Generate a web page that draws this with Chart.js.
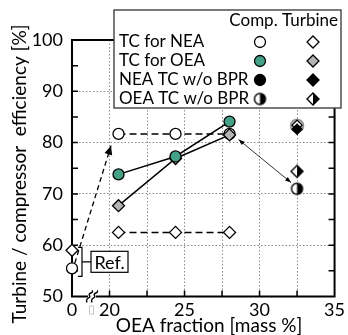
<!DOCTYPE html>
<html>
<head>
<meta charset="utf-8">
<script src="https://cdn.jsdelivr.net/npm/chart.js@4/dist/chart.umd.min.js"></script>
<style>
  html, body { margin: 0; padding: 0; background: #fff; }
  #wrap { width: 348px; height: 335px; }
</style>
</head>
<body>
<div id="wrap"><canvas id="chart"></canvas></div>
<script>
// --- axis (broken between 0 and 20) ---
const X_MIN = 17.5;          // left end of the axis, labelled "0"
const X_MAX = 35;
const xTickVals = [17.5, 20, 22.5, 25, 27.5, 30, 32.5, 35];
const xTickLabels = { 17.5: '0', 20: '20', 25: '25', 30: '30', 35: '35' };
const xGridVals = [20, 22.5, 25, 27.5, 30, 32.5];
const yTickVals = [50, 60, 70, 80, 90, 100];

// --- data ---
const xOEA = [20.6, 24.4, 28.0];
const compNEA = [81.7, 81.7, 81.7];   // TC for NEA, compressor
const turbNEA = [62.5, 62.5, 62.5];   // TC for NEA, turbine
const compOEA = [73.8, 77.3, 84.1];   // TC for OEA, compressor
const turbOEA = [67.7, 76.9, 81.5];   // TC for OEA, turbine

const xRef = 0;
const refComp = 55.5;
const refTurb = 59.0;

const xNoBpr = 32.5;
const greyNoBpr = 83.3;
const compNoBprNEA = 83.4;
const turbNoBprNEA = 82.6;
const compNoBprOEA = 71.0;
const turbNoBprOEA = 74.4;

// arrows [x0, y0, x1, y1]
const refArrow = [1.5, 56.5, 20.1, 79.4];
const gapArrow = [28.6, 80.6, 32.1, 72.2];

const TEAL = '#45a088';
const GREY = '#b4b4b4';
const FONT = 'Lato, "Open Sans", sans-serif';

// values below 20 are squeezed into the broken part of the axis
const mapX = v => v < 20 ? X_MIN + v * (20 - X_MIN) / 20 : v;
const pts = (xs, ys) => xs.map((x, i) => ({ x: mapX(x), y: ys[i] }));

// half white / half black markers
function halfMarker(shape, r) {
    const s = Math.ceil(r * 2 + 4);
    const c = document.createElement('canvas');
    c.width = s; c.height = s;
    const g = c.getContext('2d');
    const m = s / 2;
    const path = () => {
        g.beginPath();
        if (shape === 'circle') g.arc(m, m, r, 0, Math.PI * 2);
        else { g.moveTo(m, m - r); g.lineTo(m + r, m); g.lineTo(m, m + r); g.lineTo(m - r, m); g.closePath(); }
    };
    path(); g.fillStyle = '#fff'; g.fill();
    g.save(); g.beginPath(); g.rect(m, 0, m, s); g.clip();
    path(); g.fillStyle = '#000'; g.fill(); g.restore();
    path(); g.lineWidth = 1.4; g.strokeStyle = '#000'; g.stroke();
    return c;
}
const halfCircle = halfMarker('circle', 5.5);
const halfDiamond = halfMarker('diamond', 6);

function drawMarker(ctx, kind, x, y, r, fill) {
    if (kind === 'halfCircle' || kind === 'halfDiamond') {
        const img = kind === 'halfCircle' ? halfCircle : halfDiamond;
        ctx.drawImage(img, x - img.width / 2, y - img.height / 2);
        return;
    }
    ctx.beginPath();
    if (kind === 'circle') ctx.arc(x, y, r, 0, Math.PI * 2);
    else { ctx.moveTo(x, y - r); ctx.lineTo(x + r, y); ctx.lineTo(x, y + r); ctx.lineTo(x - r, y); ctx.closePath(); }
    ctx.fillStyle = fill; ctx.fill();
    ctx.lineWidth = 1.3; ctx.strokeStyle = '#000'; ctx.stroke();
}

function arrow(ctx, x0, y0, x1, y1, len, half, dash, width, both) {
    ctx.save();
    ctx.strokeStyle = '#000'; ctx.fillStyle = '#000';
    ctx.lineWidth = width;
    ctx.setLineDash(dash);
    ctx.beginPath(); ctx.moveTo(x0, y0); ctx.lineTo(x1, y1); ctx.stroke();
    ctx.setLineDash([]);
    const head = (ax, ay, bx, by) => {
        const a = Math.atan2(by - ay, bx - ax);
        ctx.beginPath();
        ctx.moveTo(bx, by);
        ctx.lineTo(bx - len * Math.cos(a) + half * Math.sin(a), by - len * Math.sin(a) - half * Math.cos(a));
        ctx.lineTo(bx - len * Math.cos(a) - half * Math.sin(a), by - len * Math.sin(a) + half * Math.cos(a));
        ctx.closePath(); ctx.fill();
    };
    head(x0, y0, x1, y1);
    if (both) head(x1, y1, x0, y0);
    ctx.restore();
}

const decorations = {
    id: 'decorations',
    beforeDatasetsDraw(chart) {
        const { ctx, chartArea: a, scales: { x, y } } = chart;
        ctx.save();
        // frame
        ctx.strokeStyle = '#000'; ctx.lineWidth = 2;
        ctx.strokeRect(a.left, a.top, a.right - a.left, a.bottom - a.top);

        // inward ticks
        ctx.lineWidth = 1.5;
        ctx.beginPath();
        for (let v = 55; v < 100; v += 5) {
            const py = y.getPixelForValue(v);
            ctx.moveTo(a.left, py); ctx.lineTo(a.left + 6, py);
            ctx.moveTo(a.right, py); ctx.lineTo(a.right - 6, py);
        }
        xGridVals.forEach(v => {
            const px = x.getPixelForValue(v);
            ctx.moveTo(px, a.bottom); ctx.lineTo(px, a.bottom - 6);
        });
        ctx.stroke();

        // axis break
        const bx = a.left + 20, by = a.bottom;
        ctx.fillStyle = '#fff';
        ctx.fillRect(bx - 4, by - 3, 8, 6);
        ctx.lineWidth = 1.4;
        [-2.5, 2.5].forEach(dx => {
            const cx = bx + dx;
            ctx.beginPath();
            ctx.moveTo(cx - 2.5, by + 6);
            ctx.bezierCurveTo(cx - 5, by + 1, cx + 2, by + 2, cx, by - 1);
            ctx.bezierCurveTo(cx - 2, by - 4, cx + 5, by - 3, cx + 2.5, by - 6);
            ctx.stroke();
        });
        ctx.strokeStyle = '#c8c8c8'; ctx.lineWidth = 1;
        ctx.strokeRect(bx - 2.5, by + 9.5, 4, 8);
        ctx.restore();
    },
    afterDatasetsDraw(chart) {
        const { ctx, chartArea: a, scales: { x, y } } = chart;
        ctx.save();

        // reference bracket + label
        const ry0 = y.getPixelForValue(refTurb) - 3;
        const ry1 = y.getPixelForValue(refComp) + 8;
        const rx = a.left + 10;
        ctx.strokeStyle = '#000'; ctx.lineWidth = 1.2;
        ctx.beginPath();
        ctx.moveTo(rx - 4, ry0); ctx.lineTo(rx, ry0); ctx.lineTo(rx, ry1); ctx.lineTo(rx - 4, ry1);
        const rm = (ry0 + ry1) / 2;
        ctx.moveTo(rx, rm); ctx.lineTo(rx + 9, rm);
        ctx.stroke();
        ctx.fillStyle = '#fff';
        ctx.fillRect(rx + 9, rm - 10.5, 37, 21);
        ctx.strokeRect(rx + 9, rm - 10.5, 37, 21);
        ctx.fillStyle = '#000';
        ctx.font = '18px ' + FONT;
        ctx.textAlign = 'center'; ctx.textBaseline = 'middle';
        ctx.fillText('Ref.', rx + 27.5, rm + 1);

        // arrows
        arrow(ctx, x.getPixelForValue(mapX(refArrow[0])), y.getPixelForValue(refArrow[1]),
            x.getPixelForValue(mapX(refArrow[2])), y.getPixelForValue(refArrow[3]), 9, 4, [5, 3.5], 1.3, false);
        arrow(ctx, x.getPixelForValue(gapArrow[0]), y.getPixelForValue(gapArrow[1]),
            x.getPixelForValue(gapArrow[2]), y.getPixelForValue(gapArrow[3]), 6, 2.2, [], 0.8, true);

        // axis titles
        ctx.fillStyle = '#000';
        ctx.font = '19px ' + FONT;
        ctx.textAlign = 'center'; ctx.textBaseline = 'middle';
        ctx.fillText('OEA fraction [mass %]', 209, 326);
        ctx.save();
        ctx.translate(20, 174);
        ctx.rotate(-Math.PI / 2);
        ctx.fillText('Turbine / compressor  efficiency [%]', 0, 0);
        ctx.restore();

        // legend box
        const L = { l: 114, t: 10, r: 341, b: 108 };
        ctx.fillStyle = '#fff';
        ctx.fillRect(L.l, L.t, L.r - L.l, L.b - L.t);
        ctx.strokeStyle = '#333'; ctx.lineWidth = 1.3;
        ctx.strokeRect(L.l, L.t, L.r - L.l, L.b - L.t);
        ctx.fillStyle = '#000';
        ctx.font = '17px ' + FONT;
        ctx.textAlign = 'right';
        ctx.fillText('Comp. Turbine', 338, 21);
        const rows = [
            ['TC for NEA', 'circle', 'diamond', '#fff', '#fff'],
            ['TC for OEA', 'circle', 'diamond', TEAL, GREY],
            ['NEA TC w/o BPR', 'circle', 'diamond', '#000', '#000'],
            ['OEA TC w/o BPR', 'halfCircle', 'halfDiamond', null, null]
        ];
        rows.forEach((row, i) => {
            const ry = 42 + i * 19;
            ctx.fillStyle = '#000';
            ctx.font = '17px ' + FONT;
            ctx.textAlign = 'left';
            ctx.fillText(row[0], 119, ry);
            drawMarker(ctx, row[1], 260, ry, 5.5, row[3]);
            drawMarker(ctx, row[2], 313, ry, 6, row[4]);
        });
        ctx.restore();
    }
};

const pointSet = (label, data, style, fill, radius, order) => ({
    label, data, showLine: false, order, clip: false,
    pointStyle: style, pointRadius: radius, pointBackgroundColor: fill,
    pointBorderColor: '#000', pointBorderWidth: 1.3
});

new Chart(document.getElementById('chart'), {
    type: 'scatter',
    data: {
        datasets: [
            {
                label: 'TC for OEA comp', data: pts(xOEA, compOEA), showLine: true, order: 0,
                borderColor: '#000', borderWidth: 1.5,
                pointStyle: 'circle', pointRadius: 5.5, pointBackgroundColor: TEAL,
                pointBorderColor: '#000', pointBorderWidth: 1.3
            },
            {
                label: 'TC for OEA turb', data: pts(xOEA, turbOEA), showLine: true, order: 1,
                borderColor: '#000', borderWidth: 1.5,
                pointStyle: 'rectRot', pointRadius: 6, pointBackgroundColor: GREY,
                pointBorderColor: '#000', pointBorderWidth: 1.3
            },
            {
                label: 'TC for NEA comp', data: pts(xOEA, compNEA), showLine: true, order: 3,
                borderColor: '#000', borderWidth: 1.5, borderDash: [7, 4],
                pointStyle: 'circle', pointRadius: 5.5, pointBackgroundColor: '#fff',
                pointBorderColor: '#000', pointBorderWidth: 1.3
            },
            {
                label: 'TC for NEA turb', data: pts(xOEA, turbNEA), showLine: true, order: 3,
                borderColor: '#000', borderWidth: 1.5, borderDash: [7, 4],
                pointStyle: 'rectRot', pointRadius: 6, pointBackgroundColor: '#fff',
                pointBorderColor: '#000', pointBorderWidth: 1.3
            },
            pointSet('Ref comp', pts([xRef], [refComp]), 'circle', '#fff', 5.5, 2),
            pointSet('Ref turb', pts([xRef], [refTurb]), 'rectRot', '#fff', 6, 2),
            {
                label: 'grey', data: pts([xNoBpr], [greyNoBpr]), showLine: false, order: 6,
                pointStyle: 'circle', pointRadius: 6.5, pointBackgroundColor: '#a8a8a8',
                pointBorderColor: '#999', pointBorderWidth: 1.5
            },
            pointSet('NEA w/o BPR comp', pts([xNoBpr], [compNoBprNEA]), 'rectRot', '#fff', 5, 5),
            pointSet('NEA w/o BPR turb', pts([xNoBpr], [turbNoBprNEA]), 'rectRot', '#000', 5, 4),
            { label: 'OEA w/o BPR comp', data: pts([xNoBpr], [compNoBprOEA]), showLine: false, order: 2, pointStyle: halfCircle },
            { label: 'OEA w/o BPR turb', data: pts([xNoBpr], [turbNoBprOEA]), showLine: false, order: 2, pointStyle: halfDiamond }
        ]
    },
    options: {
        responsive: true,
        maintainAspectRatio: false,
        animation: false,
        layout: { padding: { left: 0, top: 40, right: 8, bottom: 0 } },
        plugins: { legend: { display: false }, tooltip: { enabled: false } },
        scales: {
            x: {
                type: 'linear', min: X_MIN, max: X_MAX,
                afterBuildTicks: s => { s.ticks = xTickVals.map(v => ({ value: v })); },
                afterFit: s => { s.height = 38.5; },
                ticks: {
                    autoSkip: false, maxRotation: 0, padding: 3, color: '#000',
                    font: { family: FONT, size: 18 },
                    callback: v => xTickLabels[v] || ''
                },
                grid: {
                    drawTicks: false, lineWidth: 1,
                    color: c => xGridVals.includes(c.tick && c.tick.value) ? '#8a8a8a' : 'transparent'
                },
                border: { display: false, dash: [1.5, 2] }
            },
            y: {
                min: 50, max: 100,
                afterBuildTicks: s => { s.ticks = yTickVals.map(v => ({ value: v })); },
                afterFit: s => { s.width = 72; },
                ticks: { padding: 9, color: '#000', font: { family: FONT, size: 18 } },
                grid: {
                    drawTicks: false, lineWidth: 1,
                    color: c => (c.tick && c.tick.value > 50 && c.tick.value < 100) ? '#8a8a8a' : 'transparent'
                },
                border: { display: false, dash: [1.5, 2] }
            }
        }
    },
    plugins: [decorations]
});
</script>
</body>
</html>
